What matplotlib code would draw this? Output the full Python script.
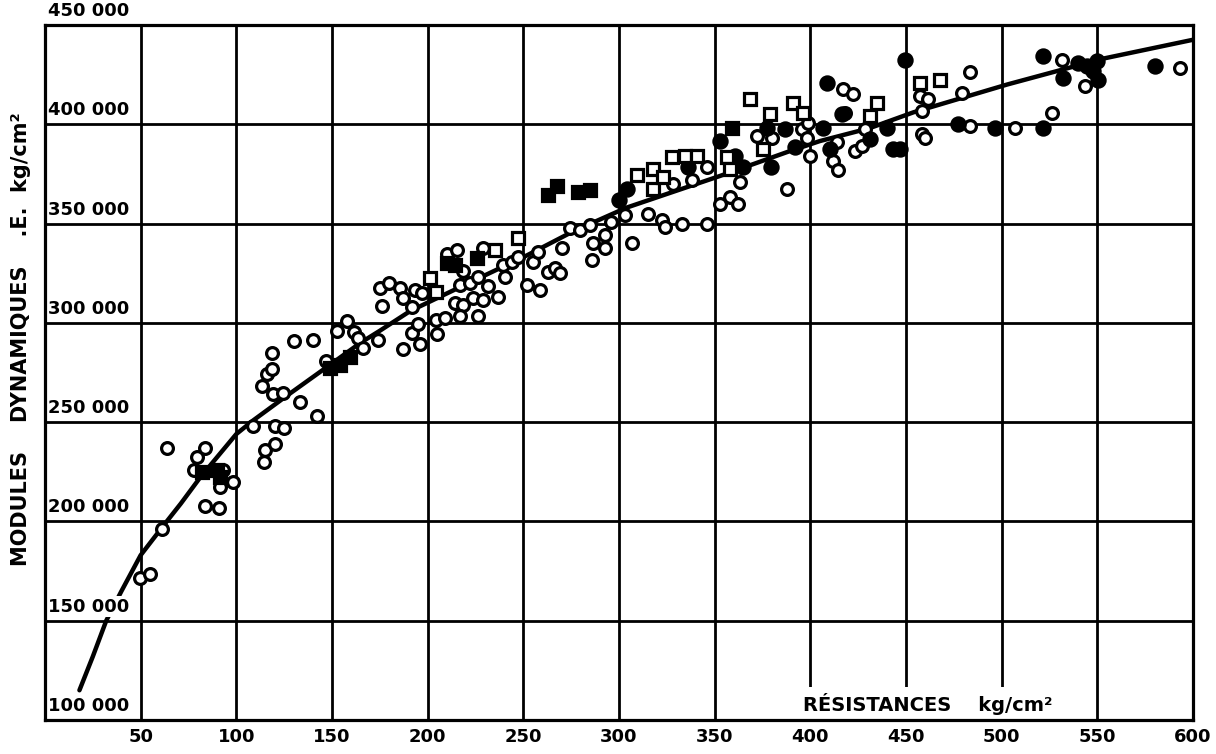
import matplotlib
matplotlib.use("Agg")
import matplotlib.pyplot as plt

# Courbe moyenne, y en kg/cm2
curve_x = [18, 25, 32, 40, 50, 62, 71, 81, 100, 109, 126, 147, 165, 175, 191, 217,
           252, 276, 304, 353, 388, 405, 431, 454, 503, 553, 600]
curve_y = [115000, 132000, 150000, 165000, 183000, 198000, 209000, 222000, 244000,
           251000, 263000, 277500, 290000, 296000, 306000, 318000, 334000, 346000,
           358000, 374000, 386000, 391500, 398000, 406000, 420000, 433000, 442500]

# Cercles ouverts (x, E en milliers)
open_circ_x = [49.7, 54.9, 61, 64, 79.6, 77.9, 83.6, 83.6, 91, 92.9, 91.5, 98.4,
               108.6, 113.3, 116, 118.5, 118.5, 119.4, 124.6, 114.5, 115, 120.2, 120.2, 125,
               130, 140, 133.3, 142,
               147, 152.5, 158, 161.7, 163.6, 166.4, 174, 175, 180, 185.6, 187, 176, 191.6,
               193.4, 196.9, 191.6, 195, 187.3, 196,
               204.4, 209, 205, 210.3, 215.2, 218.7, 216.9, 222, 226.5, 231.7, 214.3, 218.7,
               223.9, 229, 216.9, 226.5, 237, 229, 239.6, 240.4, 244, 247.4,
               251.8, 255, 257.9, 258.8, 263, 266.6, 269.2, 270, 274.4, 279.7, 284.9, 286.6,
               285.8, 292.7, 292.7, 296,
               303.2, 306.7, 315.4, 322.3, 324, 332.8, 345.9, 328.4, 338, 345.9,
               352.9, 358, 362.4, 363.3, 372, 379.8, 387.7, 395.6, 399, 398.2, 400,
               417.3, 422.5, 418.1, 413.8, 412.1, 414.7, 423.4, 426.9, 428.6,
               457.4, 461.7, 458.3, 458.3, 460, 479.2, 483.5, 483.5, 507, 526.2, 531.5,
               543.6, 593.3]
open_circ_y = [171.5, 173.5, 196, 237, 232.5, 225.8, 237, 207.8, 206.7, 226, 217.5, 220,
               248.3, 268.3, 274.2, 276.7, 285, 264.2, 264.5, 229.8, 235.8, 239.2, 248.3, 247.1,
               290.8, 291.6, 260, 253.3,
               280.8, 295.8, 301, 295.3, 292.5, 287.5, 291.5, 317.5, 320, 317.5, 312.5, 308.3,
               307.8, 316.7, 315, 295, 299.2, 286.7, 289.2,
               301.2, 302.5, 294.2, 334.5, 336.7, 326.2, 319.2, 320, 323.3, 318.3, 310, 308.8,
               312.5, 311.7, 303.3, 303.3, 313, 337.5, 329.2, 323.3, 330.8, 333.3,
               319.2, 330.8, 335.8, 316.7, 325.8, 327.5, 325, 337.5, 347.5, 346.7, 349.2, 340,
               331.7, 344.2, 337.5, 350.8,
               354.2, 340, 355, 351.7, 348.3, 349.7, 349.7, 370, 371.7, 378.3,
               360, 363.3, 360, 370.8, 394.2, 393.3, 367.5, 397.5, 400.8, 393.3, 384.2,
               417.5, 415, 405.8, 390.8, 381.7, 376.7, 386.7, 389.2, 397.5,
               414.2, 412.8, 406.7, 395, 392.8, 415.8, 426.2, 399.2, 398.3, 405.8, 432.5,
               419.2, 428.3]

# Cercles pleins
full_circ_x = [300, 304, 336.3, 352.9, 360.7, 365, 377.2, 379.4, 386.8, 392, 406.8, 408.6,
               416.4, 410.3, 431.3, 440, 443.4, 447, 449.6, 477.4, 496.6, 521.5, 521.9,
               532.3, 540.2, 544.5, 549.8, 548, 550.6, 580.2]
full_circ_y = [362, 367.5, 378.3, 391.7, 384.2, 378.3, 398.3, 378.3, 397.5, 388.3, 398.3, 420.8,
               405, 387.5, 392.5, 398.3, 387.5, 387.5, 432.5, 400, 398.3, 398.3, 434.2,
               423.3, 430.8, 429.2, 431.7, 426.7, 422.5, 429.2]

# Carres ouverts
open_sq_x = [201.3, 204.4, 235.2, 247.4, 309.3, 318, 318, 327.6, 334.6, 340.7, 323.2, 356.3,
             358, 375.5, 379, 368.5, 391.2, 396.4, 431.3, 434.8, 457.4, 467.8]
open_sq_y = [322.8, 315.5, 336.7, 342.8, 374.2, 377.5, 367.5, 383.3, 384.2, 384.2, 373.3, 383.3,
             377.5, 387.5, 405, 412.5, 410.8, 405.8, 404.2, 410.8, 420.8, 422.5]

# Carres pleins
full_sq_x = [82, 90, 91.5, 149, 154, 159.4, 210, 214.3, 225.6, 263, 267.6, 278.6, 284.9, 359]
full_sq_y = [225, 225.8, 222.5, 277.5, 278.8, 282.8, 330, 329, 332.5, 364.5, 369, 366, 367, 398.3]

y_ticks = [100000, 150000, 200000, 250000, 300000, 350000, 400000, 450000]
y_labels = ['100 000', '150 000', '200 000', '250 000', '300 000', '350 000', '400 000', '450 000']
x_ticks = [50, 100, 150, 200, 250, 300, 350, 400, 450, 500, 550, 600]

plt.rcParams['font.family'] = 'DejaVu Sans'
plt.rcParams['font.weight'] = 'bold'

fig = plt.figure(figsize=(12.16, 7.54), dpi=100)
ax = fig.add_axes([0.037, 0.045, 0.944, 0.922])
ax.set_xlim(0, 600)
ax.set_ylim(100000, 450000)

ax.grid(True, color='black', linewidth=2.0, zorder=1)
ax.set_axisbelow(True)
for s in ax.spines.values():
    s.set_linewidth(2.3)
    s.set_zorder(6)

ax.plot(curve_x, curve_y, color='black', linewidth=3.2, solid_capstyle='round', zorder=3)

ms = 8.5
mew = 2.3
ax.plot(open_circ_x, [v * 1000 for v in open_circ_y], 'o', ms=ms, mfc='white', mec='black',
        mew=mew, zorder=4)
ax.plot(full_circ_x, [v * 1000 for v in full_circ_y], 'o', ms=ms + 1, mfc='black', mec='black',
        mew=mew, zorder=4)
ax.plot(open_sq_x, [v * 1000 for v in open_sq_y], 's', ms=ms, mfc='white', mec='black',
        mew=mew, zorder=4)
ax.plot(full_sq_x, [v * 1000 for v in full_sq_y], 's', ms=ms, mfc='black', mec='black',
        mew=mew, zorder=4)

# graduations des ordonnees a l'interieur du cadre
ax.set_yticks(y_ticks)
ax.set_yticklabels([])
ax.tick_params(axis='y', length=0)
for t, lab in zip(y_ticks, y_labels):
    ax.text(1.5, t + 2500, lab, ha='left', va='bottom', fontsize=13, fontweight='bold',
            bbox=dict(facecolor='white', edgecolor='none', pad=1.0), zorder=5, clip_on=False)

ax.set_xticks(x_ticks)
ax.set_xticklabels([str(v) for v in x_ticks], fontsize=13, fontweight='bold')
ax.tick_params(axis='x', length=0, pad=6)

ax.text(0.66, 0.008, 'RÉSISTANCES    kg/cm²', transform=ax.transAxes, ha='left', va='bottom',
        fontsize=14, fontweight='bold',
        bbox=dict(facecolor='white', edgecolor='none', pad=4.0), zorder=5)

fig.text(0.017, 0.55, 'MODULES    DYNAMIQUES    .E.  kg/cm²', rotation=90, ha='center',
         va='center', fontsize=15, fontweight='bold')

fig.savefig('out.png', dpi=100)
